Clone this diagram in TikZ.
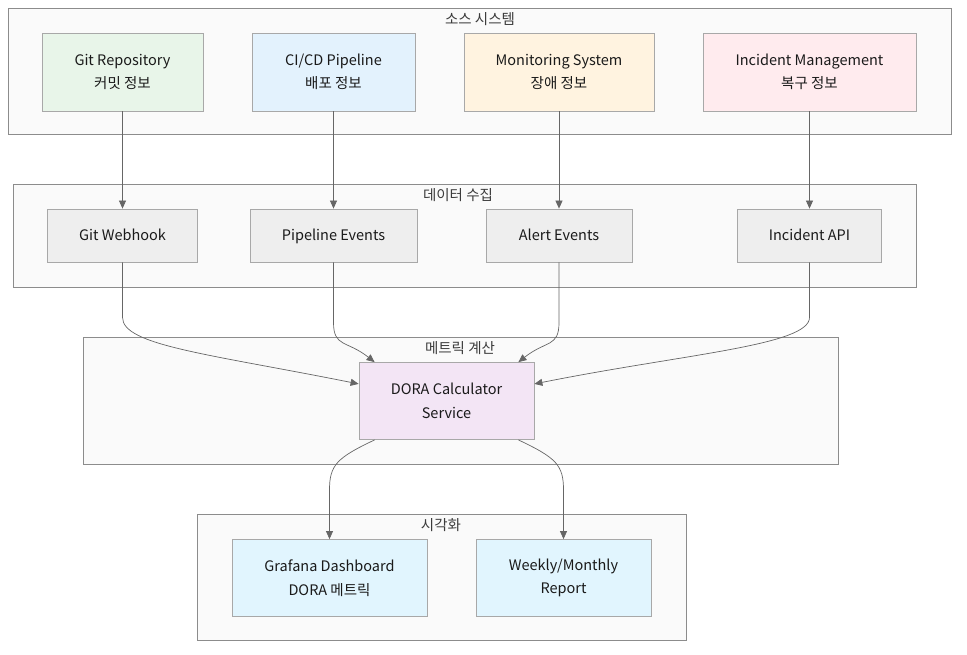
\documentclass[tikz,border=0pt]{standalone}
\usepackage{fontspec}
\setmainfont{Noto Sans CJK KR}
\usetikzlibrary{positioning,calc,arrows.meta}
\definecolor{cgreen}{HTML}{E8F5E9}
\definecolor{cblue}{HTML}{E3F2FD}
\definecolor{corange}{HTML}{FFF3E0}
\definecolor{cpink}{HTML}{FFEBEE}
\definecolor{cgray}{HTML}{EEEEEE}
\definecolor{cpurple}{HTML}{F3E5F5}
\definecolor{csky}{HTML}{E1F5FE}
\definecolor{clusterfill}{HTML}{FAFAFA}
\definecolor{clusterline}{HTML}{8C8C8C}
\definecolor{boxline}{HTML}{A8A8A8}
\definecolor{arrowgray}{HTML}{666666}
\definecolor{txt}{HTML}{1A1A1A}

\begin{document}
\begin{tikzpicture}[x=1pt, y=-1pt, font=\fontsize{14.5}{23.5}\selectfont, text=txt,
    cluster/.style={draw=clusterline, fill=clusterfill, line width=0.8pt},
    title/.style={inner sep=0pt, text=txt!85},
    box/.style={draw=boxline, line width=0.8pt, align=center, inner sep=0pt},
    onebox/.style={box, fill=cgray, minimum height=53, text height=12pt, text depth=2pt},
    arr/.style={draw=arrowgray, line width=0.7pt, -{Triangle[length=8pt,width=7pt]}}]
    \useasboundingbox (0,0) rectangle (967,654);

    % Source systems
    \draw[cluster] (8,8) rectangle (951,134);
    \node[title] (srcT) at (480,19) {소스 시스템};
    \foreach \n/\x/\w/\c/\t in {git/122.5/161/cgreen/{Git Repository\\커밋 정보}, ci/333.5/163/cblue/{CI/CD Pipeline\\배포 정보}, mon/559/190/corange/{Monitoring System\\장애 정보}, inc/809.5/213/cpink/{Incident Management\\복구 정보}}
        \node[box, fill=\c, minimum width=\w, minimum height=78] (\n) at (\x,72) {\t};

    % Data collection
    \draw[cluster] (13,184) rectangle (916,287);
    \node[title] (colT) at (458,195) {데이터 수집};
    \foreach \n/\x/\w/\t in {gw/122.5/150/Git Webhook, pe/333.5/167/Pipeline Events, ae/559/146/Alert Events, ia/809.5/144/Incident API}
        \node[onebox, minimum width=\w] (\n) at (\x,235.5) {\t};

    % Metric calculation
    \draw[cluster] (83,337) rectangle (838,464);
    \node[title] (calcT) at (460,348) {메트릭 계산};
    \node[box, fill=cpurple, minimum width=175, minimum height=77] (dora) at (446.5,401) {DORA Calculator\\Service};

    % Visualization
    \draw[cluster] (197,514) rectangle (686,640);
    \node[title] (visT) at (441,525) {시각화};
    \node[box, fill=csky, minimum width=195, minimum height=77] (graf) at (329.5,578) {Grafana Dashboard\\DORA 메트릭};
    \node[box, fill=csky, minimum width=175, minimum height=77] (rep) at (563.5,578) {Weekly/Monthly\\Report};

    % Connectors
    \foreach \a/\b in {git/gw, ci/pe, mon/ae, inc/ia}
        \draw[arr] (\a) -- (\b);
    \draw[arr] (gw.south) -- ++(0,55) .. controls +(0,28) and +(-150,-30) .. (dora.169);
    \draw[arr] (pe.south) -- ++(0,60) .. controls +(0,25) and +(-28,-22) .. ($(dora.north west)+(16,0)$);
    \draw[arr] (ae.south) -- ++(0,60) .. controls +(0,25) and +(28,-22) .. ($(dora.north east)+(-16,0)$);
    \draw[arr] (ia.south) -- ++(0,55) .. controls +(0,28) and +(150,-30) .. (dora.11);
    \draw[arr] ($(dora.south west)+(16,0)$) .. controls +(-38,18) and +(0,-25) .. ($(graf.north)+(0,-49)$) -- (graf.north);
    \draw[arr] ($(dora.south east)+(-16,0)$) .. controls +(38,18) and +(0,-25) .. ($(rep.north)+(0,-49)$) -- (rep.north);
\end{tikzpicture}
\end{document}
